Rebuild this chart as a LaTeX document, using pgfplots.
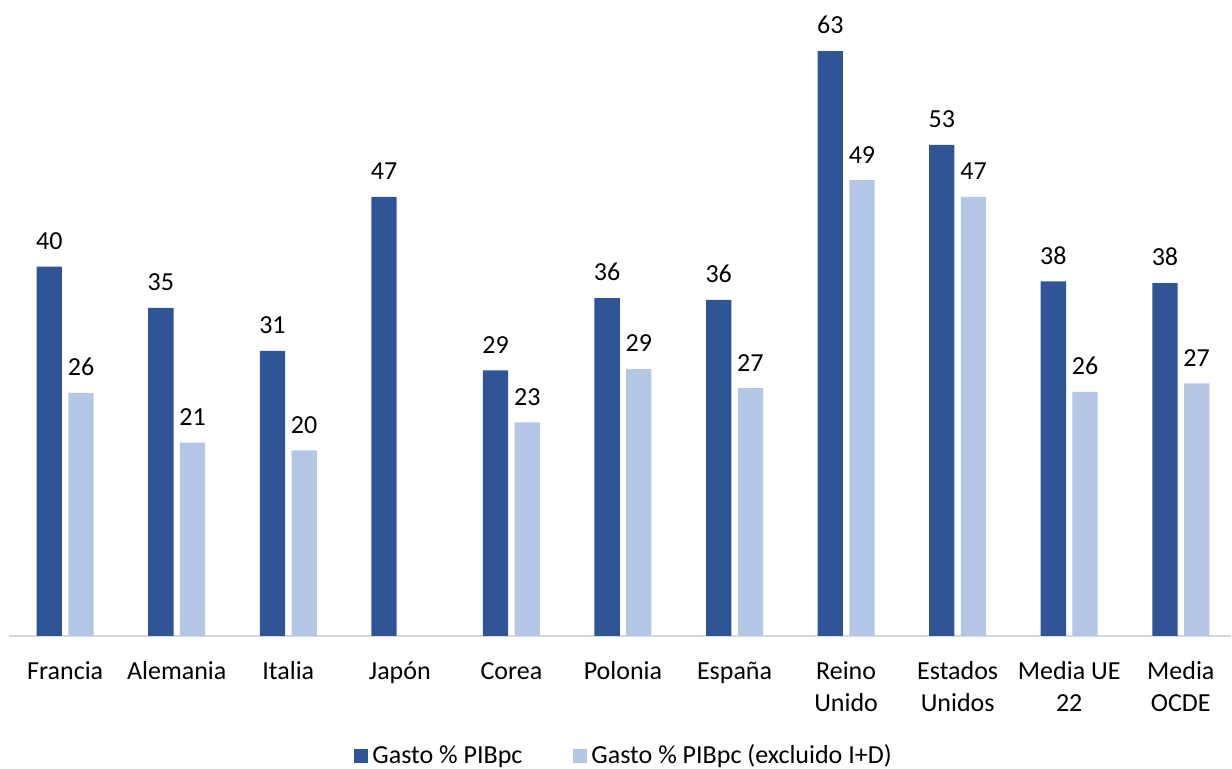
\documentclass[border=0pt]{standalone}
\usepackage{pgfplots}
\pgfplotsset{compat=1.18}
\usepackage{fontspec}
\setmainfont{Carlito}
\definecolor{darkb}{HTML}{2F5597}
\definecolor{lightb}{HTML}{B4C7E7}
\begin{document}
\begin{tikzpicture}
\path[use as bounding box] (0,0) rectangle (616pt,384.5pt);
\begin{axis}[
  at={(4.7pt,66.5pt)}, anchor=south west,
  scale only axis, width=610.8pt, height=315.7pt,
  ybar=3.2pt, bar width=12.65pt,
  xmin=-0.5, xmax=10.45, ymin=0, ymax=68,
  axis y line=none, axis x line*=bottom,
  x axis line style={draw=black!15, line width=1pt, -},
  xtick={0,...,10},
  xticklabels={\strut Francia,\strut Alemania,\strut Italia,\strut Japón,\strut Corea,\strut Polonia,\strut España,{\strut Reino\\Unido},{\strut Estados\\Unidos},{\strut Media UE\\22},{\strut Media\\OCDE}},
  xtick style={draw=none},
  xticklabel style={align=center, font=\fontsize{13}{16}\selectfont, anchor=north, yshift=-2.8pt},
  nodes near coords,
  nodes near coords style={font=\fontsize{13}{16}\selectfont, black, yshift=5pt, /pgf/number format/fixed, /pgf/number format/precision=0, /pgf/number format/assume math mode=true},
  clip=false,
  legend style={at={(0.504,-0.19)}, anchor=center, draw=none, font=\fontsize{13}{16}\selectfont, legend columns=2,
    /tikz/every even column/.append style={column sep=23.5pt}},
  legend image code/.code={\fill[#1] (0pt,-3.5pt) rectangle (7pt,3.5pt);},
]
\addplot[fill=darkb, draw=none] coordinates {(0,39.77) (1,35.35) (2,30.7) (3,47.3) (4,28.6) (5,36.4) (6,36.2) (7,63.0) (8,52.9) (9,38.2) (10,38.0)};
\addplot[fill=lightb, draw=none] coordinates {(0,26.17) (1,20.82) (2,20.0) (4,23.0) (5,28.75) (6,26.7) (7,49.1) (8,47.3) (9,26.3) (10,27.2)};
\legend{Gasto \% PIBpc, Gasto \% PIBpc (excluido I+D)}
\end{axis}
\end{tikzpicture}
\end{document}
